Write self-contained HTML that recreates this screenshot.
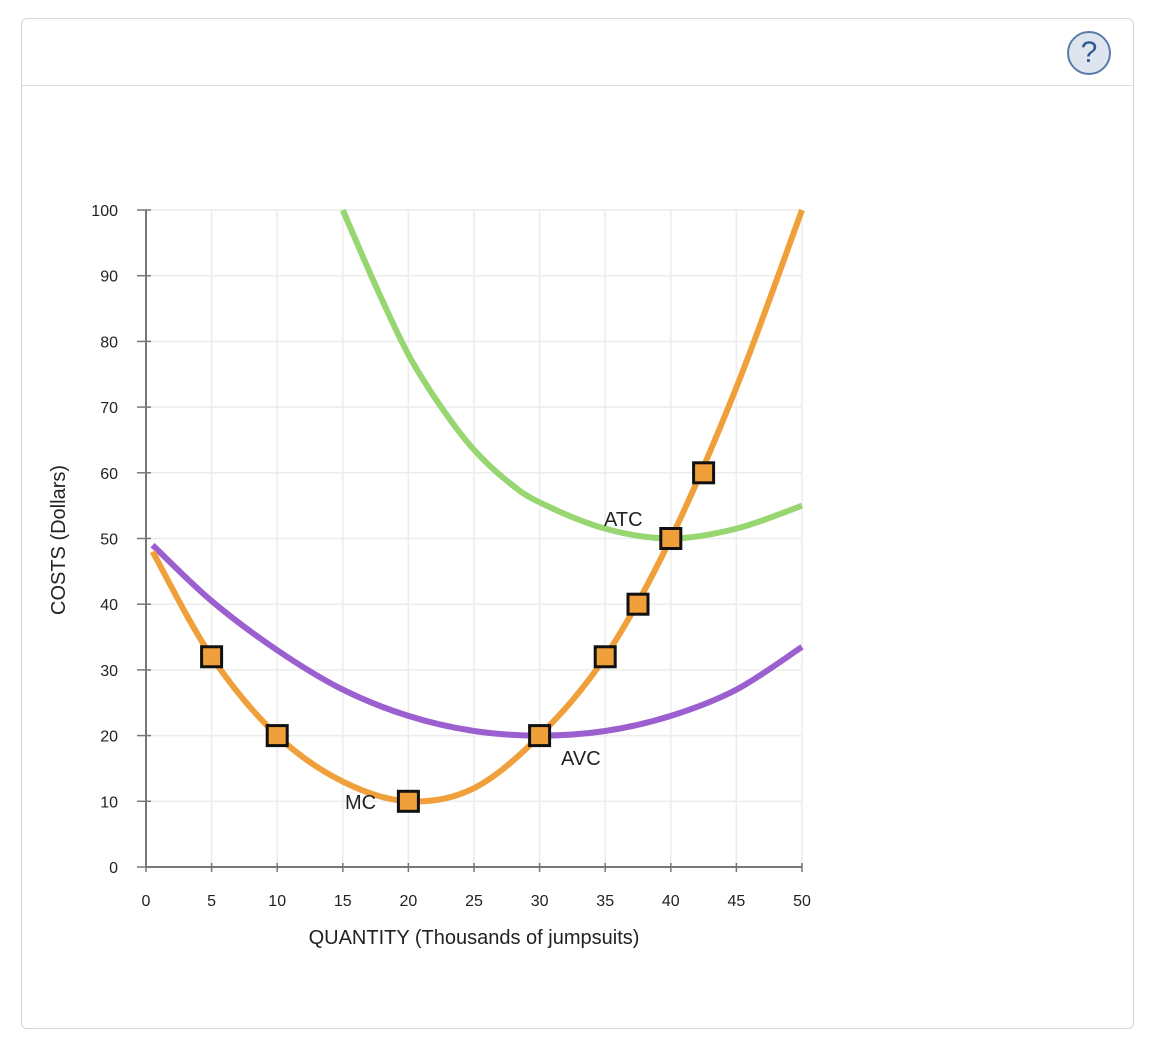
<!DOCTYPE html>
<html><head><meta charset="utf-8"><style>
body{margin:0;background:#fff;width:1164px;height:1048px;overflow:hidden;font-family:"Liberation Sans",Arial,sans-serif;}
#panel{position:absolute;left:21px;top:18px;width:1111px;height:1009px;border:1.5px solid #d6d6d6;border-radius:6px;}
#hdr{position:absolute;left:0;top:66px;width:100%;height:0;border-top:1.5px solid #dedede;}
#help{position:absolute;left:1045px;top:12px;width:44px;height:44px;border-radius:50%;background:#dfe5ee;border:2px solid #5a7bab;box-sizing:border-box;color:#2f5a94;font-size:30px;text-align:center;line-height:40px;}
svg{position:absolute;left:0;top:0;}
</style></head><body>
<div id="panel">
<div id="hdr"></div>
<div id="help">?</div>
</div>
<svg id="chart" width="1164" height="1048"></svg>
<script>
const xTicks=[0,5,10,15,20,25,30,35,40,45,50];
const yTicks=[0,10,20,30,40,50,60,70,80,90,100];
const mcX=[0.5,5,10,15,20,25,30,35,40,45,50];
const mcY=[48,32,20,13,10,12,20,32,50,73,100];
const avcX=[0.5,5,10,15,20,25,30,35,40,45,50];
const avcY=[49,40.5,33,27,23,20.7,20,20.7,23,27,33.5];
const atcX=[15,17.5,20,22.5,25,27.5,30,35,40,45,50];
const atcY=[100,88.5,78,70,63.5,58.8,55.5,51.5,50,51.5,55];
const ptX=[5,10,20,30,35,37.5,40,42.5];
const ptY=[32,20,10,20,32,40,50,60];
const X0=146,X1=802,Y0=867,Y1=210;
const sx=v=>X0+(X1-X0)*v/50, sy=v=>Y0-(Y0-Y1)*v/100;
const svg=document.getElementById('chart');const NS='http://www.w3.org/2000/svg';
function mk(t,a,p){const e=document.createElementNS(NS,t);for(const k in a)e.setAttribute(k,a[k]);(p||svg).appendChild(e);return e;}
xTicks.forEach(v=>{if(v>0){const g=mk('line',{x1:sx(v),x2:sx(v),y1:Y1,y2:Y0,stroke:'#ececec','stroke-width':1.5});

}
const t=mk('line',{x1:sx(v),x2:sx(v),y1:Y0-4,y2:Y0+5,stroke:'#777','stroke-width':1.5});


const l=mk('text',{x:sx(v),y:Y0+39,'text-anchor':'middle','font-size':16,fill:'#222'});l.textContent=v;

});
yTicks.forEach(v=>{if(v>0){const g=mk('line',{x1:X0,x2:X1,y1:sy(v),y2:sy(v),stroke:'#ececec','stroke-width':1.5});

}
const t=mk('line',{x1:X0-9,x2:X0+5,y1:sy(v),y2:sy(v),stroke:'#777','stroke-width':1.5});


const l=mk('text',{x:X0-28,y:sy(v)+6,'text-anchor':'end','font-size':16,fill:'#222'});l.textContent=v;

});
const ax=mk('path',{d:`M${X0},${Y1} V${Y0} H${X1}`,stroke:'#777','stroke-width':2,fill:'none'});


function curve(xs,ys){const p=xs.map((x,i)=>[sx(x),sy(ys[i])]);let d=`M${p[0][0]},${p[0][1]}`;
for(let i=0;i<p.length-1;i++){const a=p[Math.max(0,i-1)],b=p[i],c=p[i+1],e=p[Math.min(p.length-1,i+2)];
d+=` C${b[0]+(c[0]-a[0])/6},${b[1]+(c[1]-a[1])/6} ${c[0]-(e[0]-b[0])/6},${c[1]-(e[1]-b[1])/6} ${c[0]},${c[1]}`;}return d;}
const atc=mk('path',{d:curve(atcX,atcY),stroke:'#98d672','stroke-width':6,fill:'none'});


const avc=mk('path',{d:curve(avcX,avcY),stroke:'#9c5fd0','stroke-width':6,fill:'none'});


const mc=mk('path',{d:curve(mcX,mcY),stroke:'#f0a03a','stroke-width':6,fill:'none'});


ptX.forEach((x,i)=>{const r=mk('rect',{x:sx(x)-10,y:sy(ptY[i])-10,width:20,height:20,fill:'#f0a03a',stroke:'#111','stroke-width':3});

});
function lab(t,x,y,n,a){const e=mk('text',{x:x,y:y,'font-size':20,fill:'#222','text-anchor':a||'start'});e.textContent=t;

return e;}
lab('ATC',604,526,'atc-label');lab('AVC',561,765,'avc-label');lab('MC',345,809,'mc-label');
lab('QUANTITY (Thousands of jumpsuits)',474,944,'x-axis-title','middle');
const yt=lab('COSTS (Dollars)',0,0,'y-axis-title','middle');yt.setAttribute('transform','translate(65,540) rotate(-90)');
</script>
</body></html>
